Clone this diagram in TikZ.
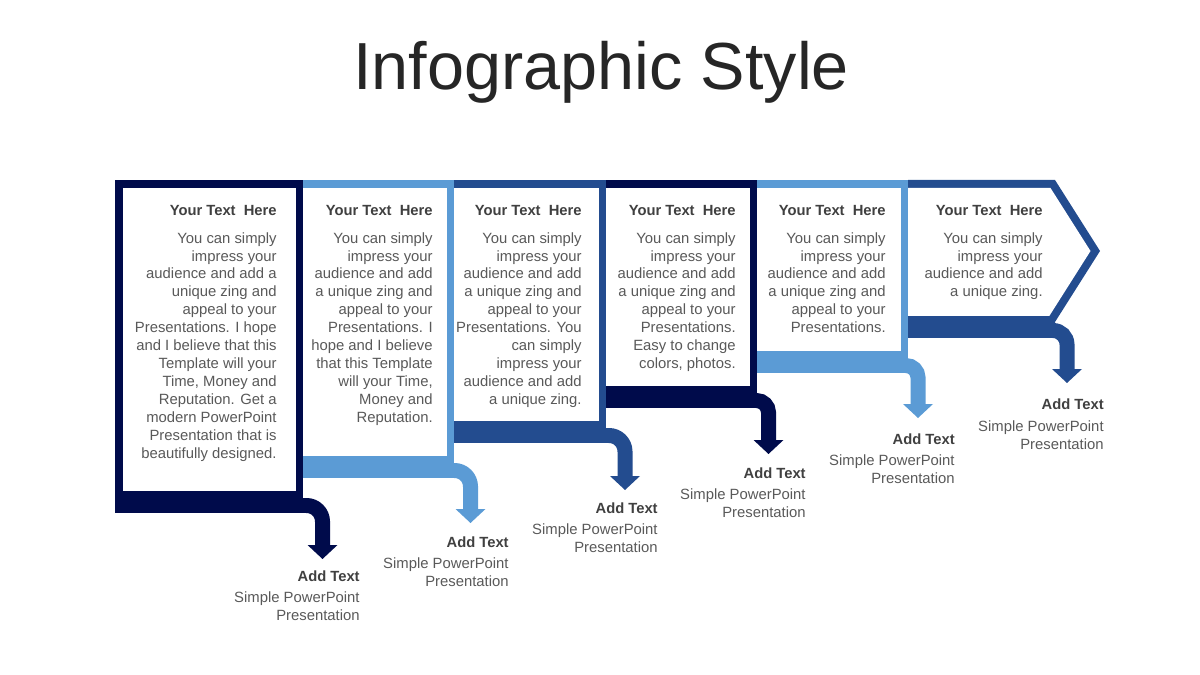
\documentclass[tikz,border=0pt]{standalone}
\usepackage{fontspec}
\setmainfont{Liberation Sans}
\usetikzlibrary{arrows.meta}

\definecolor{navyband}{RGB}{0,11,75}
\definecolor{midband}{RGB}{35,76,143}
\definecolor{lightband}{RGB}{91,155,213}
\definecolor{titlegray}{RGB}{38,38,38}
\definecolor{headgray}{RGB}{64,64,64}
\definecolor{bodygray}{RGB}{89,89,89}

\begin{document}
\begin{tikzpicture}[x=0.02cm, y=-0.02cm,
    heading/.style={anchor=base east, inner sep=0pt, text=headgray, font=\fontsize{8.4}{10.2}\selectfont\bfseries},
    bodytext/.style={anchor=north east, inner sep=0pt, align=right, text=bodygray, font=\fontsize{8.45}{10.2}\selectfont},
    flow/.style={line width=0.3cm, rounded corners=#1, -{Triangle[width=0.6cm, length=0.28cm, line width=0pt]}}]
        % Page size (1200 x 675 px, 1 unit = 1 px)
        \useasboundingbox (0,0) rectangle (1200,675);

        % Title
        \node[anchor=base, inner sep=0pt, text=titlegray, font=\fontsize{37.9}{40}\selectfont] (title) at (601,90) {Infographic Style};

        % First panel: navy frame with the lowest band
        \fill[navyband] (115,180) rectangle (303,513);
        \fill[white] (123,188) rectangle (296,491);

        % Second panel: light blue
        \fill[lightband] (303,180) rectangle (454,478);
        \fill[white] (303,188) rectangle (447,456);

        % Third panel: mid blue
        \fill[midband] (454,180) rectangle (606,443);
        \fill[white] (454,188) rectangle (598.5,421);

        % Fourth panel: navy
        \fill[navyband] (606,180) rectangle (757,408);
        \fill[white] (606,188) rectangle (750,386);

        % Fifth panel: light blue
        \fill[lightband] (757,180) rectangle (908,373);
        \fill[white] (757,188) rectangle (900.5,351);

        % Sixth panel: mid blue chevron
        \fill[midband] (908,180) -- (1055,180) -- (1100,251) -- (1055,322) -- (1055,338) -- (908,338) -- cycle;
        \fill[white] (908,188) -- (1050.5,188) -- (1090.5,251) -- (1049.3,316) -- (908,316) -- cycle;

        % Start and end points of the bent arrows
        \coordinate (s1) at (296,505.5);  \coordinate (t1) at (322.5,559);
        \coordinate (s2) at (447,470.5);  \coordinate (t2) at (470.5,523);
        \coordinate (s3) at (599,435.5);  \coordinate (t3) at (625,490);
        \coordinate (s4) at (750,400.5);  \coordinate (t4) at (768.5,454);
        \coordinate (s5) at (901,365.5);  \coordinate (t5) at (918,418);
        \coordinate (s6) at (1048,330.5); \coordinate (t6) at (1067,383);

        % Bent arrows out of each band
        \draw[flow=0.32cm, navyband] (s1) -| (t1);
        \draw[flow=0.32cm, lightband] (s2) -| (t2);
        \draw[flow=0.32cm, midband] (s3) -| (t3);
        \draw[flow=0.24cm, navyband] (s4) -| (t4);
        \draw[flow=0.24cm, lightband] (s5) -| (t5);
        \draw[flow=0.28cm, midband] (s6) -| (t6);

        % Panel texts
        \node[heading] (head1) at (277,216) {Your Text~~Here};
        \node[bodytext] (body1) at (277,232) {You can simply\\impress your\\audience and add a\\unique zing and\\appeal to your\\Presentations. I hope\\and I believe that this\\Template will your\\Time, Money and\\Reputation. Get a\\modern PowerPoint\\Presentation that is\\beautifully designed.};

        \node[heading] (head2) at (433,216) {Your Text~~Here};
        \node[bodytext] (body2) at (433,232) {You can simply\\impress your\\audience and add\\a unique zing and\\appeal to your\\Presentations. I\\hope and I believe\\that this Template\\will your Time,\\Money and\\Reputation.};

        \node[heading] (head3) at (582,216) {Your Text~~Here};
        \node[bodytext] (body3) at (582,232) {You can simply\\impress your\\audience and add\\a unique zing and\\appeal to your\\Presentations. You\\can simply\\impress your\\audience and add\\a unique zing.};

        \node[heading] (head4) at (736,216) {Your Text~~Here};
        \node[bodytext] (body4) at (736,232) {You can simply\\impress your\\audience and add\\a unique zing and\\appeal to your\\Presentations.\\Easy to change\\colors, photos.};

        \node[heading] (head5) at (886,216) {Your Text~~Here};
        \node[bodytext] (body5) at (886,232) {You can simply\\impress your\\audience and add\\a unique zing and\\appeal to your\\Presentations.};

        \node[heading] (head6) at (1043,216) {Your Text~~Here};
        \node[bodytext] (body6) at (1043,232) {You can simply\\impress your\\audience and add\\a unique zing.};

        % Labels under the arrows
        \node[heading] (add1) at (360,581) {Add Text};
        \node[bodytext] (note1) at (360,591) {Simple PowerPoint\\Presentation};

        \node[heading] (add2) at (509,547) {Add Text};
        \node[bodytext] (note2) at (509,557) {Simple PowerPoint\\Presentation};

        \node[heading] (add3) at (658,513) {Add Text};
        \node[bodytext] (note3) at (658,523) {Simple PowerPoint\\Presentation};

        \node[heading] (add4) at (806,478) {Add Text};
        \node[bodytext] (note4) at (806,488) {Simple PowerPoint\\Presentation};

        \node[heading] (add5) at (955,444) {Add Text};
        \node[bodytext] (note5) at (955,454) {Simple PowerPoint\\Presentation};

        \node[heading] (add6) at (1104,410) {Add Text};
        \node[bodytext] (note6) at (1104,420) {Simple PowerPoint\\Presentation};
\end{tikzpicture}
\end{document}
